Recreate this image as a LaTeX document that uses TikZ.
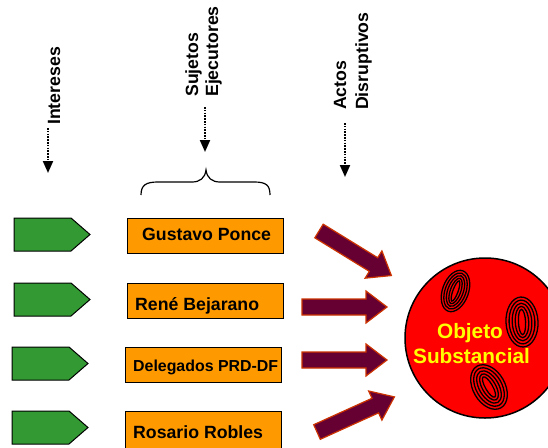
\documentclass[tikz,border=0pt]{standalone}
\usepackage{fontspec}
\setmainfont{Liberation Sans}
\usetikzlibrary{arrows.meta}
\definecolor{pentgreen}{HTML}{339933}
\definecolor{boxorange}{HTML}{FF9900}
\definecolor{darkmaroon}{HTML}{660033}
\definecolor{arrowedge}{HTML}{CC3300}
\definecolor{bigred}{HTML}{FF0000}
\definecolor{txtyellow}{HTML}{FFFF00}
\tikzset{
  lab/.style={font=\fontsize{17.7}{20}\selectfont\bfseries, inner sep=0pt, rotate=90, anchor=base west},
  boxtxt/.style={font=\fontsize{17.7}{20}\selectfont\bfseries, inner sep=0pt, anchor=base west},
  smallboxtxt/.style={font=\fontsize{15.9}{18}\selectfont\bfseries, inner sep=0pt, anchor=base west},
  orangebox/.style={draw=black, line width=1pt, fill=boxorange, rectangle, inner sep=0pt, minimum width=156pt, anchor=north west},
  objtxt/.style={font=\fontsize{20.8}{25}\selectfont\bfseries, text=txtyellow, inner sep=0pt, anchor=base},
  dotarrow/.style={line width=2pt, dash pattern=on 1.5pt off 1.3pt, -{Triangle[width=10pt,length=12pt]}},
  pentagon/.pic={\draw[fill=pentgreen, draw=black, line width=1pt] (0,0) -- (57,0) -- (76,16.5) -- (57,33) -- (0,33) -- cycle;},
  blockarrow/.pic={\draw[fill=darkmaroon, draw=arrowedge, line width=1.2pt, line join=miter] (0,-8) -- (64,-8) -- (64,-16) -- (85,0) -- (64,16) -- (64,8) -- (0,8) -- cycle;},
  rings/.style={draw=black, line width=1.3pt}
}
\begin{document}
\begin{tikzpicture}[x=1pt,y=-1pt]
\useasboundingbox (0,0) rectangle (548,447);
\clip (0,0) rectangle (548,447);

% top labels
\node[lab] (intereses) at (60,125) {Intereses};
\node[lab] (sujetos) at (198,97) {Sujetos};
\node[lab] (ejecutores) at (218,97) {Ejecutores};
\node[lab] (actos) at (346,110) {Actos};
\node[lab] (disruptivos) at (368,110) {Disruptivos};

% dotted arrows
\coordinate (a1s) at (48,128);
\coordinate (a1e) at (48,173);
\coordinate (a2s) at (205,107);
\coordinate (a2e) at (205,152);
\coordinate (a3s) at (345,123);
\coordinate (a3e) at (345,177);
\draw[dotarrow] (a1s) -- (a1e);
\draw[dotarrow] (a2s) -- (a2e);
\draw[dotarrow] (a3s) -- (a3e);

% brace
\draw[line width=1.2pt] (141,195) .. controls (141,185) and (146,182) .. (158,182)
  -- (192,182) .. controls (200,182) and (205,178) .. (206,170)
  .. controls (207,178) and (212,182) .. (220,182)
  -- (254,182) .. controls (266,182) and (270,185) .. (270,195);

% green pentagons
\pic at (14,218) {pentagon};
\pic at (14,283) {pentagon};
\pic at (12,347) {pentagon};
\pic at (12,411) {pentagon};

% orange boxes
\node[orangebox, minimum height=35pt] (b1) at (127,218) {};
\node[orangebox, minimum height=35pt] (b2) at (127,283) {};
\node[orangebox, minimum height=35pt] (b3) at (125,347) {};
\node[orangebox, minimum height=37pt] (b4) at (125,411) {};
\node[boxtxt] (t1) at (142,240) {Gustavo Ponce};
\node[boxtxt] (t2) at (135,310) {René Bejarano};
\node[smallboxtxt] (t3) at (133,371) {Delegados PRD-DF};
\node[boxtxt] (t4) at (133,438) {Rosario Robles};

% block arrows
\pic[rotate=-31.6] at (319,231) {blockarrow};
\pic at (302,307) {blockarrow};
\pic at (302,360) {blockarrow};
\pic[rotate=24.4] at (317,432) {blockarrow};

% big circle
\node[circle, draw=black, line width=1.5pt, fill=bigred, minimum size=160pt, inner sep=0pt] (obj) at (485,338) {};

% rings
\begin{scope}[shift={(455.5,291)}, rotate=-20]
  \foreach \k in {0,...,4} {
    \draw[rings] (0,0) ellipse [x radius={13-2.6*\k}, y radius={21.5-2.7*\k}];
  }
\end{scope}
\begin{scope}[shift={(522,322)}, rotate=3]
  \foreach \k in {0,...,4} {
    \draw[rings] (0,0) ellipse [x radius={16-3.1*\k}, y radius={25-3.1*\k}];
  }
\end{scope}
\begin{scope}[shift={(489,387)}, rotate=30]
  \foreach \k in {0,...,4} {
    \draw[rings] (0,0) ellipse [x radius={16-3.1*\k}, y radius={24-3.1*\k}];
  }
\end{scope}

\node[objtxt] (o1) at (470,338) {Objeto};
\node[objtxt] (o2) at (471.5,363) {Substancial};
\end{tikzpicture}
\end{document}
